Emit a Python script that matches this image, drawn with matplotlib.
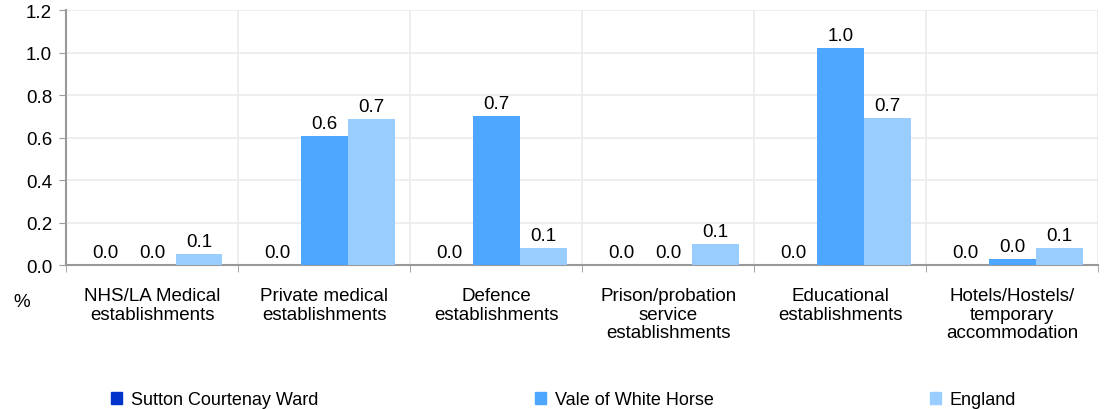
import numpy as np
import matplotlib
matplotlib.use('Agg')
import matplotlib.pyplot as plt
from matplotlib.patches import Patch

plt.rcParams['font.family'] = ['Liberation Sans', 'DejaVu Sans']

categories = ['NHS/LA Medical\nestablishments', 'Private medical\nestablishments',
              'Defence\nestablishments', 'Prison/probation\nservice\nestablishments',
              'Educational\nestablishments', 'Hotels/Hostels/\ntemporary\naccommodation']
series_names = ['Sutton Courtenay Ward', 'Vale of White Horse', 'England']
sutton = [0.0, 0.0, 0.0, 0.0, 0.0, 0.0]
vale = [0.0, 0.607, 0.70, 0.0, 1.02, 0.028]
england = [0.05, 0.687, 0.08, 0.097, 0.69, 0.08]
colors = ['#0033CC', '#4DA6FF', '#99CCFF']

fig = plt.figure(figsize=(11.04, 4.1), dpi=100)
ax = fig.add_axes([0.0598, 0.351, 0.935, 0.622])

x = np.arange(len(categories))
w = 0.273
for i, (vals, c) in enumerate(zip([sutton, vale, england], colors)):
    bars = ax.bar(x + (i - 1) * w, vals, w, color=c, zorder=3)
    ax.bar_label(bars, labels=['%.1f' % (v + 1e-9) for v in vals], padding=3, fontsize=13.5)

ax.set_xlim(-0.5, len(categories) - 0.5)
ax.set_ylim(0, 1.2)
ax.set_yticks(np.arange(0, 1.21, 0.2))
ax.set_yticklabels(['%.1f' % v for v in np.arange(0, 1.21, 0.2)], fontsize=13.5)
ax.set_xticks(x)
ax.set_xticklabels(categories, fontsize=13.5, linespacing=1.1)
ax.tick_params(axis='x', length=0, pad=16)
ax.set_xticks(np.arange(-0.5, len(categories)), minor=True)
ax.tick_params(axis='x', which='minor', length=5, color='#999999')
ax.tick_params(axis='y', length=5, color='#999999', pad=5)

ax.grid(axis='y', color='#EBEBEB', linewidth=1.2, zorder=0)
ax.grid(axis='x', which='minor', color='#EBEBEB', linewidth=1.2, zorder=0)
for s in ['top', 'right']:
    ax.spines[s].set_visible(False)
for s in ['left', 'bottom']:
    ax.spines[s].set_color('#999999')
    ax.spines[s].set_linewidth(1.5)

fig.text(0.02, 0.262, '%', fontsize=13.5, ha='center', va='center')

handles = [Patch(color=c) for c in colors]
fig.legend(handles, series_names, loc='center', bbox_to_anchor=(0.5105, 0.022),
           ncol=3, frameon=False, fontsize=13, handlelength=0.6, handleheight=0.6,
           handletextpad=0.5, columnspacing=12.0)

fig.savefig('out.png', dpi=100)
